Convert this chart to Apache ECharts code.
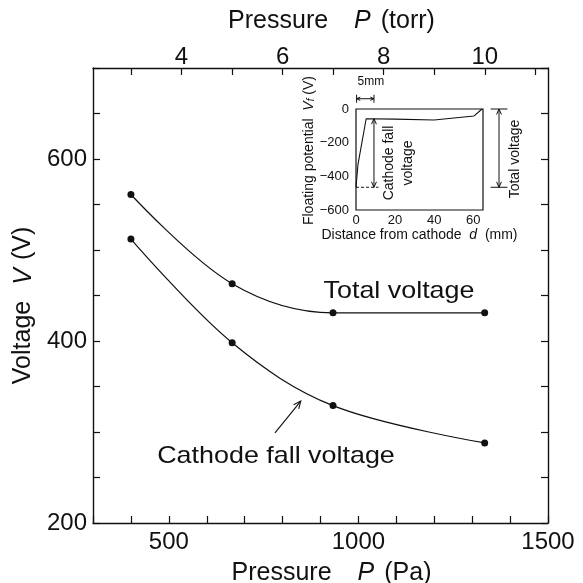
<!DOCTYPE html>
<html>
<head>
<meta charset="utf-8">
<script src="https://cdn.jsdelivr.net/npm/echarts@6/dist/echarts.min.js"></script>
<style>
  html, body { margin: 0; padding: 0; background: #fff; }
  #chart { width: 583px; height: 583px; }
</style>
</head>
<body>
<div id="chart"></div>
<script>
// Discharge voltages measured at 3, 5, 7 and 10 torr
const pressurePa = [400, 667, 933, 1333];
const totalVoltage = [561, 463, 431, 431];
const cathodeFallVoltage = [512, 398, 329, 288];

// Tick / label values
const torrTicks = [3, 4, 5, 6, 7, 8, 9, 10, 11];
const torrLabels = [4, 6, 8, 10];

// Inset: floating potential along the discharge gap
const distanceMm = [0, 1.0, 5.2, 20, 40, 60.3, 64.5];
const floatingPotential = [-465, -330, -58, -60, -65, -42, 0];

const PA_PER_TORR = 133.322;
const FONT = '"Liberation Sans", Arial, Helvetica, sans-serif';
const INK = '#111';

const chart = echarts.init(document.getElementById('chart'), null, { renderer: 'canvas' });

const axisLine = { show: true, onZero: false, lineStyle: { color: INK, width: 1.4 } };
const tickIn = { show: true, inside: true, length: 7, lineStyle: { color: INK, width: 1.2 } };
const bigText = { color: INK, fontFamily: FONT, fontSize: 24 };
// axis titles: upright word, italic symbol, unit in brackets
const nameStyle = (gapL, gapR, extra) => Object.assign({
  color: INK, fontFamily: FONT, fontSize: 25,
  rich: {
    w: { color: INK, fontFamily: FONT, fontSize: 25 },
    i: { color: INK, fontFamily: FONT, fontSize: 25, fontStyle: 'italic', padding: [0, gapR, 0, gapL] }
  }
}, extra || {});
const minus = (v) => String(v).replace('-', '\u2212');

const option = {
  animation: false,
  backgroundColor: '#fff',
  grid: [
    { left: 93, top: 68, width: 455, height: 455, outerBoundsMode: 'none', containLabel: false },
    { left: 356, top: 109, width: 127, height: 101, outerBoundsMode: 'none', containLabel: false,
      show: true, borderColor: INK, borderWidth: 1.2, backgroundColor: 'transparent' }
  ],
  xAxis: [
    {
      type: 'value', gridIndex: 0, position: 'bottom',
      min: 300, max: 1500, interval: 100,
      axisLine, axisTick: tickIn, splitLine: { show: false },
      axisLabel: Object.assign({ margin: 7, formatter: (v) => (v % 500 === 0 ? v : '') }, bigText),
      name: '{w|Pressure}{i|P}{w|(Pa)}', nameLocation: 'middle', nameGap: 38,
      nameTextStyle: nameStyle(26, 10, { padding: [0, 0, 0, 22] })
    },
    {
      type: 'value', gridIndex: 0, position: 'top',
      min: 300 / PA_PER_TORR, max: 1500 / PA_PER_TORR,
      axisLine,
      axisTick: Object.assign({ customValues: torrTicks }, tickIn),
      axisLabel: Object.assign({ margin: -1, customValues: torrLabels }, bigText),
      splitLine: { show: false },
      name: '{w|Pressure}{i|P}{w|(torr)}', nameLocation: 'middle', nameGap: 34,
      nameTextStyle: nameStyle(26, 10, { padding: [0, 0, 0, 22] })
    },
    {
      type: 'value', gridIndex: 1, position: 'bottom',
      min: 0, max: 65, interval: 20,
      axisLine: { show: false }, axisTick: { show: false }, splitLine: { show: false },
      axisLabel: { margin: 4, showMaxLabel: false, color: INK, fontFamily: FONT, fontSize: 13 },
      name: 'Distance from cathode  {i|d}  (mm)', nameLocation: 'middle', nameGap: 17,
      nameTextStyle: {
        color: INK, fontFamily: FONT, fontSize: 14,
        rich: { i: { color: INK, fontFamily: FONT, fontSize: 14, fontStyle: 'italic' } }
      }
    }
  ],
  yAxis: [
    {
      type: 'value', gridIndex: 0, position: 'left',
      min: 200, max: 700, interval: 50,
      axisLine, axisTick: tickIn, splitLine: { show: false },
      axisLabel: Object.assign({ margin: 6, formatter: (v) => (v % 200 === 0 ? v : '') }, bigText),
      name: '{w|Voltage}{i|V}{w|(V)}', nameLocation: 'middle', nameGap: 55,
      nameTextStyle: nameStyle(16, 8, { padding: [0, 20, 0, 0] })
    },
    {
      type: 'value', gridIndex: 0, position: 'right',
      min: 200, max: 700, interval: 50,
      axisLine, axisTick: tickIn, splitLine: { show: false },
      axisLabel: { show: false }
    },
    {
      type: 'value', gridIndex: 1, position: 'left',
      min: -600, max: 0, interval: 200,
      axisLine: { show: false }, axisTick: { show: false }, splitLine: { show: false },
      axisLabel: { margin: 7, formatter: minus, color: INK, fontFamily: FONT, fontSize: 13 },
      name: 'Floating potential  {i|V}{s|f} (V)', nameLocation: 'middle', nameGap: 37,
      nameTextStyle: {
        color: INK, fontFamily: FONT, fontSize: 14, padding: [0, 0, 0, 18],
        rich: {
          i: { color: INK, fontFamily: FONT, fontSize: 14, fontStyle: 'italic' },
          s: { color: INK, fontFamily: FONT, fontSize: 10, fontStyle: 'italic',
               verticalAlign: 'bottom', lineHeight: 8 }
        }
      }
    }
  ],
  series: [
    {
      name: 'Total voltage', type: 'line', xAxisIndex: 0, yAxisIndex: 0,
      data: pressurePa.map((p, i) => [p, totalVoltage[i]]),
      smooth: 0.35, symbol: 'circle', symbolSize: 7,
      itemStyle: { color: INK }, lineStyle: { color: INK, width: 1.2 }
    },
    {
      name: 'Cathode fall voltage', type: 'line', xAxisIndex: 0, yAxisIndex: 0,
      data: pressurePa.map((p, i) => [p, cathodeFallVoltage[i]]),
      smooth: 0.35, symbol: 'circle', symbolSize: 7,
      itemStyle: { color: INK }, lineStyle: { color: INK, width: 1.2 }
    },
    {
      name: 'Floating potential', type: 'line', xAxisIndex: 2, yAxisIndex: 2,
      data: distanceMm.map((d, i) => [d, floatingPotential[i]]),
      smooth: false, showSymbol: false, symbol: 'none',
      lineStyle: { color: INK, width: 1.1 }
    }
  ]
};

chart.setOption(option);

// Annotations placed in data coordinates of each grid
const main = (x, y) => chart.convertToPixel({ gridIndex: 0 }, [x, y]);
const inset = (x, y) => chart.convertToPixel({ gridIndex: 1 }, [x, y]);

function seg(a, b, w, dash) {
  return { type: 'line', silent: true,
    shape: { x1: a[0], y1: a[1], x2: b[0], y2: b[1] },
    style: { stroke: INK, lineWidth: w || 1, lineDash: dash || null } };
}
// open arrow head at point tip, coming from point from
function head(tip, from, size, w) {
  const ang = Math.atan2(tip[1] - from[1], tip[0] - from[0]);
  const spread = 0.42;
  const p1 = [tip[0] - size * Math.cos(ang - spread), tip[1] - size * Math.sin(ang - spread)];
  const p2 = [tip[0] - size * Math.cos(ang + spread), tip[1] - size * Math.sin(ang + spread)];
  return { type: 'polyline', silent: true,
    shape: { points: [p1, tip, p2] },
    style: { stroke: INK, lineWidth: w || 1, fill: null } };
}
function label(text, pos, size, rot, extra, sx) {
  return { type: 'text', silent: true, x: pos[0], y: pos[1], rotation: rot || 0,
    scaleX: sx || 1,
    style: Object.assign({ text, fill: INK, font: size + 'px ' + FONT,
      align: 'center', verticalAlign: 'middle' }, extra || {}) };
}

const g = [];

// main-plot arrow pointing at the cathode fall curve
const aFrom = main(780, 299), aTo = main(848, 334);
g.push(seg(aFrom, aTo, 1.1), head(aTo, aFrom, 8, 1.1));
g.push(label('Total voltage', [399, 291], 24, 0, null, 1.12));
g.push(label('Cathode fall voltage', [276, 456], 24, 0, null, 1.12));

// inset: cathode fall double arrow and base line
const cfTop = inset(9.2, -58), cfBot = inset(9.2, -465);
g.push(seg(cfTop, cfBot, 1), head(cfTop, cfBot, 6, 1), head(cfBot, cfTop, 6, 1));
g.push(seg(inset(0, -465), inset(11.5, -465), 1, [3, 2]));

// inset: total voltage double arrow with end caps
const tvTop = inset(73.2, 0), tvBot = inset(73.2, -465);
g.push(seg(tvTop, tvBot, 1), head(tvTop, tvBot, 6, 1), head(tvBot, tvTop, 6, 1));
g.push(seg(inset(68.9, 0), inset(77.5, 0), 1), seg(inset(68.9, -465), inset(77.5, -465), 1));

// inset: 5 mm scale mark
const smL = inset(0.3, 61), smR = inset(9.2, 61);
g.push(seg(smL, smR, 1), head(smR, smL, 4, 1), head(smL, smR, 4, 1));
g.push(seg([smL[0], smL[1] - 4], [smL[0], smL[1] + 4], 1), seg([smR[0], smR[1] - 4], [smR[0], smR[1] + 4], 1));
g.push(label('5mm', [smL[0] + 1, smL[1] - 17], 12, 0, { align: 'left' }));

// inset texts
g.push(label('Total voltage', [515, 159], 14, Math.PI / 2));
g.push(label('Cathode fall\nvoltage', [398.5, 163], 14, Math.PI / 2, { lineHeight: 19 }));

chart.setOption({ graphic: { elements: g } });
</script>
</body>
</html>
